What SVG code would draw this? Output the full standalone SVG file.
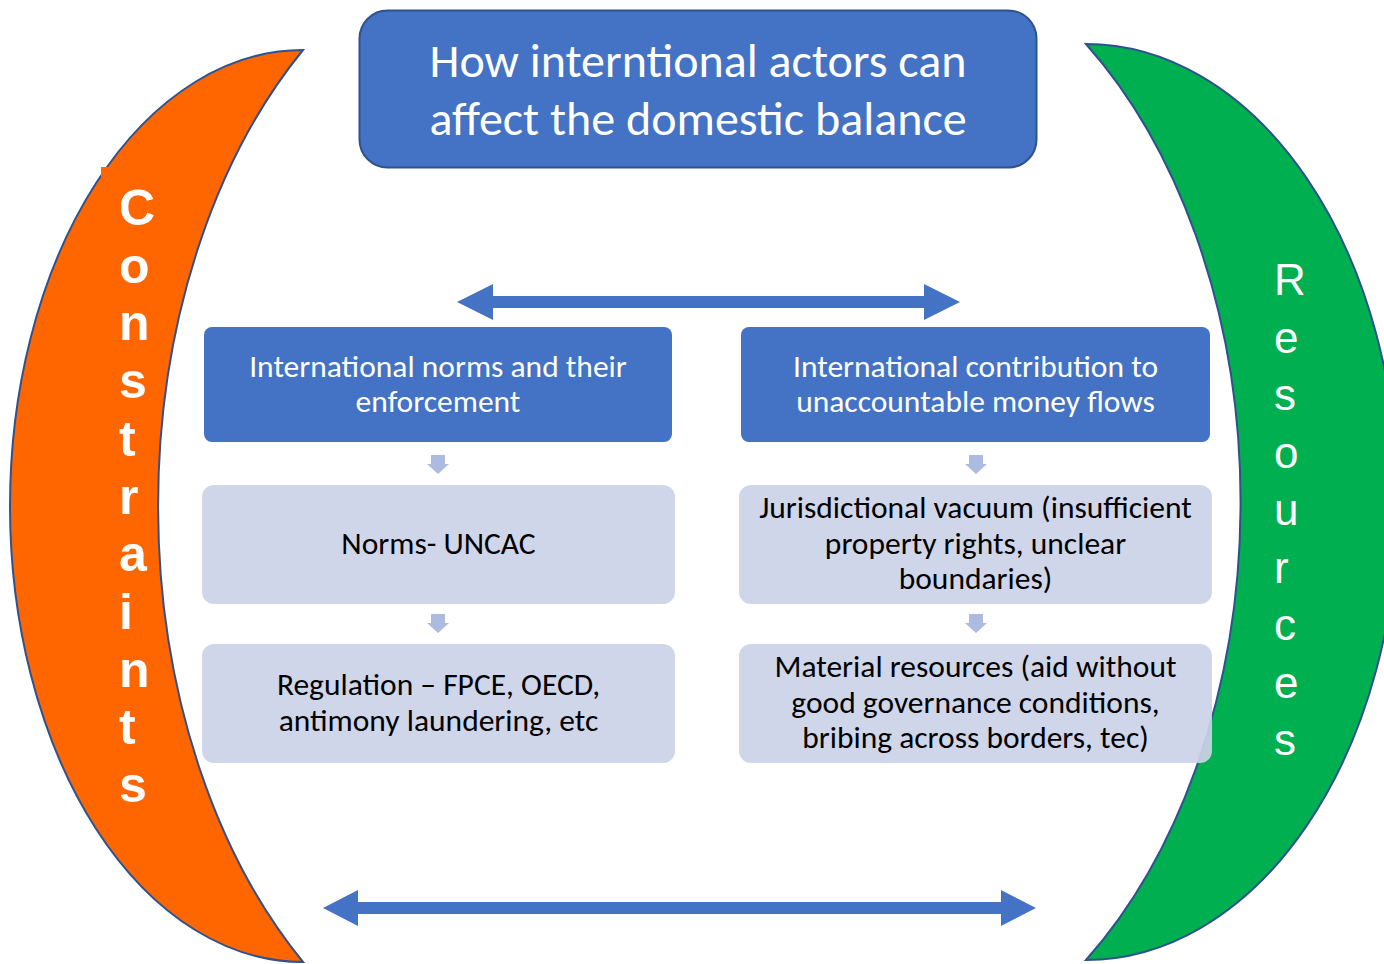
<svg xmlns="http://www.w3.org/2000/svg" width="1384" height="964" viewBox="0 0 1384 964">
<defs>
<style>
.crescent{stroke:#2F528F;stroke-width:2}
.title{fill:#4472C4;stroke:#2F528F;stroke-width:2}
.head{fill:#4472C4}
.sub{fill:#CCD3E8;fill-opacity:0.92}
.t{font-family:Carlito,Calibri,"Liberation Sans",Arial,sans-serif;text-anchor:middle}
.tw{fill:#FFFFFF}
.tb{fill:#000000}
.side{font-family:"Liberation Sans",Arial,sans-serif;fill:#FFFFFF}
.big{fill:#4472C4}
.small{fill:#AEBBE0}
</style>
</defs>
<rect width="1384" height="964" fill="#FFFFFF"/>

<g id="constraints">
<path class="crescent" fill="#FF6600" d="M303,50 A293,456 0 0 0 303,962 A400,592 0 0 1 303,50 Z"/>
<rect x="101" y="167" width="9" height="13" fill="#FF6600"/>
<text class="side" font-size="50" font-weight="bold" x="119"><tspan x="119" y="225">C</tspan><tspan x="119" y="282.7">o</tspan><tspan x="119" y="340.4">n</tspan><tspan x="119" y="398.1">s</tspan><tspan x="119" y="455.8">t</tspan><tspan x="119" y="513.5">r</tspan><tspan x="119" y="571.2">a</tspan><tspan x="119" y="628.9">i</tspan><tspan x="119" y="686.6">n</tspan><tspan x="119" y="744.3">t</tspan><tspan x="119" y="802">s</tspan></text>
</g>

<g id="resources">
<path class="crescent" fill="#00B050" d="M1086,44 A312,458 0 0 1 1086,960 A400,580 0 0 0 1086,44 Z"/>
<text class="side" font-size="44" x="1274"><tspan x="1274" y="295">R</tspan><tspan x="1274" y="352.5">e</tspan><tspan x="1274" y="410">s</tspan><tspan x="1274" y="467.5">o</tspan><tspan x="1274" y="525">u</tspan><tspan x="1274" y="582.5">r</tspan><tspan x="1274" y="640">c</tspan><tspan x="1274" y="697.5">e</tspan><tspan x="1274" y="755">s</tspan></text>
</g>

<g id="title">
<rect class="title" x="359.5" y="10.5" width="677" height="157" rx="28"/>
<text class="t tw" font-size="48" x="698" y="77">How interntional actors can</text>
<text class="t tw" font-size="48" x="698" y="135">affect the domestic balance</text>
</g>

<g id="connectors">
<path class="big" d="M457,302 L493,284 L493,296 L924,296 L924,284 L960,302 L924,320 L924,308 L493,308 L493,320 Z"/>
<path class="big" d="M323,908 L358,890 L358,902 L1001,902 L1001,890 L1036,908 L1001,926 L1001,914 L358,914 L358,926 Z"/>
<path class="small" d="M431,455 L445,455 L445,464 L449,464 L438,474 L427,464 L431,464 Z"/>
<path class="small" d="M431,614 L445,614 L445,623 L449,623 L438,633 L427,623 L431,623 Z"/>
<path class="small" d="M969,455 L983,455 L983,464 L987,464 L976,474 L965,464 L969,464 Z"/>
<path class="small" d="M969,614 L983,614 L983,623 L987,623 L976,633 L965,623 L969,623 Z"/>
</g>

<g id="norms-header">
<rect class="head" x="204" y="327" width="468" height="115" rx="8"/>
<text class="t tw" font-size="31.5" x="438" y="377">International norms and their</text>
<text class="t tw" font-size="31.5" x="438" y="412">enforcement</text>
</g>

<g id="money-header">
<rect class="head" x="741" y="327" width="469" height="115" rx="8"/>
<text class="t tw" font-size="31.5" x="975.5" y="377">International contribution to</text>
<text class="t tw" font-size="31.5" x="975.5" y="412">unaccountable money flows</text>
</g>

<g id="norms-uncac">
<rect class="sub" x="202" y="485" width="473" height="119" rx="12"/>
<text class="t tb" font-size="31.5" x="438.5" y="554">Norms- UNCAC</text>
</g>

<g id="regulation">
<rect class="sub" x="202" y="644" width="473" height="119" rx="12"/>
<text class="t tb" font-size="31.5" x="438.5" y="695">Regulation – FPCE, OECD,</text>
<text class="t tb" font-size="31.5" x="438.5" y="731">antimony laundering, etc</text>
</g>

<g id="jurisdictional">
<rect class="sub" x="739" y="485" width="473" height="119" rx="12"/>
<text class="t tb" font-size="31.5" x="975.5" y="518">Jurisdictional vacuum (insufficient</text>
<text class="t tb" font-size="31.5" x="975.5" y="553.5">property rights, unclear</text>
<text class="t tb" font-size="31.5" x="975.5" y="589">boundaries)</text>
</g>

<g id="material">
<rect class="sub" x="739" y="644" width="473" height="119" rx="12"/>
<text class="t tb" font-size="31.5" x="975.5" y="677">Material resources (aid without</text>
<text class="t tb" font-size="31.5" x="975.5" y="712.5">good governance conditions,</text>
<text class="t tb" font-size="31.5" x="975.5" y="748">bribing across borders, tec)</text>
</g>
</svg>
